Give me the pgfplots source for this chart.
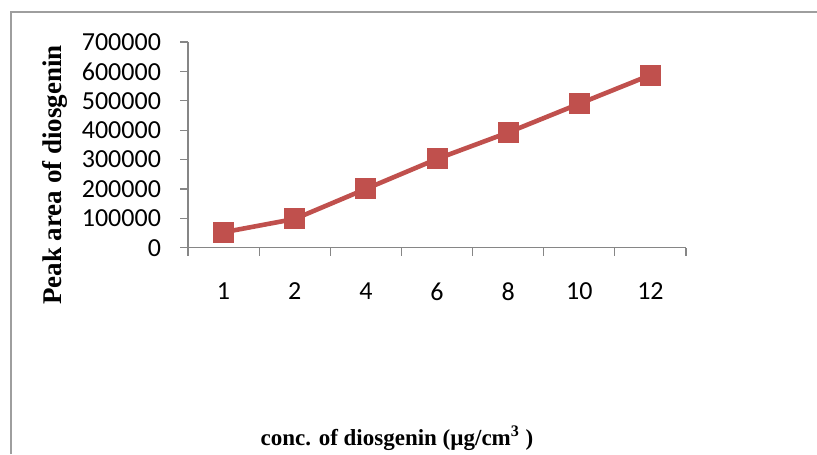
\documentclass[border=0pt]{standalone}
\usepackage{fontspec}
\setmainfont{Liberation Serif}
\newfontfamily\carlito{Carlito}
\usepackage{pgfplots}
\pgfplotsset{compat=1.18}
\definecolor{ser}{HTML}{C0504D}
\definecolor{axgray}{HTML}{868686}
\begin{document}
\begin{tikzpicture}[x=1pt,y=1pt]
\useasboundingbox (0,0) rectangle (408.5,227);
\draw[axgray!80, line width=0.6pt] (5.5,0) -- (5.5,221) -- (408.5,221);
\begin{axis}[
  at={(94pt,103.15pt)}, anchor=south west,
  scale only axis, width=249pt, height=102.85pt,
  xmin=-0.5, xmax=6.5, ymin=0, ymax=700000,
  axis lines=left,
  axis line style={draw=axgray, line width=0.6pt, -},
  tick style={draw=axgray, line width=0.6pt},
  tick align=outside,
  major tick length=4pt, minor tick length=4pt,
  xtick={0,...,6}, xticklabels={1,2,4,6,8,10,12},
  major x tick style={draw=none},
  minor xtick={-0.5,0.5,...,6.5},
  ytick={0,100000,200000,300000,400000,500000,600000,700000},
  yticklabels={0,100000,200000,300000,400000,500000,600000,700000},
  scaled y ticks=false,
  ticklabel style={font=\carlito\fontsize{13}{15}\selectfont, text=black},
  xticklabel style={yshift=-10pt},
  yticklabel style={xshift=-6pt},
  clip=false,
]
\addplot[ser, line width=2.3pt, mark=square*, mark size=5pt, mark options={fill=ser, draw=ser, line width=0pt}]
  coordinates {(0,52500) (1,97800) (2,200000) (3,302000) (4,392000) (5,490000) (6,587500)};
\end{axis}
\node[rotate=90, anchor=base, font=\bfseries\fontsize{13.5}{15}\selectfont] at (30.5,139.5) {Peak area of diosgenin};
\node[anchor=base, font=\bfseries\fontsize{11.5}{13}\selectfont] at (198.5,4.5) {conc. of diosgenin (µg/cm\textsuperscript{3} )};
\end{tikzpicture}
\end{document}
